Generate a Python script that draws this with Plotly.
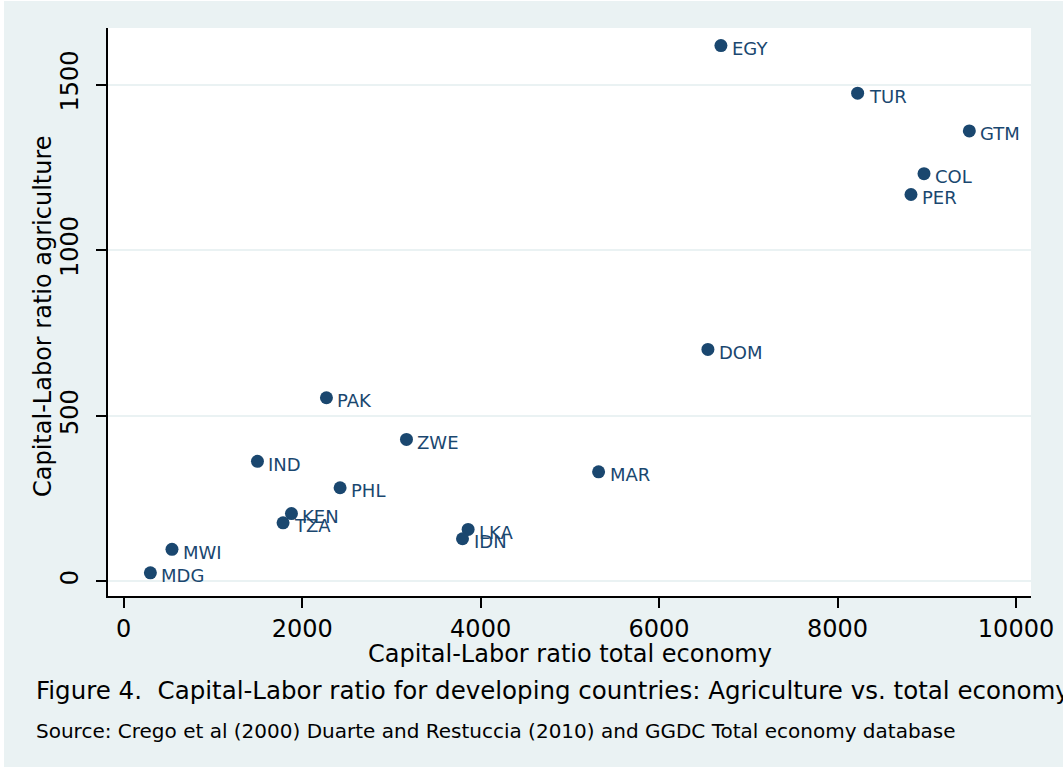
import plotly.graph_objects as go

# Capital-labor ratios
countries = ["EGY", "TUR", "GTM", "COL", "PER", "DOM", "PAK", "ZWE", "IND",
             "PHL", "MAR", "KEN", "TZA", "LKA", "IDN", "MWI", "MDG"]
kl_total = [6693, 8225, 9477, 8969, 8823, 6547, 2272, 3169, 1499,
            2425, 5322, 1880, 1786, 3860, 3797, 541, 299]
kl_agri = [1618, 1474, 1360, 1231, 1168, 700, 554, 428, 362,
           282, 330, 204, 176, 156, 128, 96, 25]

x_ticks = [0, 2000, 4000, 6000, 8000, 10000]
y_ticks = [0, 500, 1000, 1500]

navy = "#1a476f"
bg = "#eaf2f3"
font = "DejaVu Sans"

fig = go.Figure()
fig.add_trace(go.Scatter(
    x=kl_total, y=kl_agri, mode="markers",
    marker=dict(size=13, color=navy),
    hoverinfo="text", text=countries, showlegend=False,
))

# country labels, to the right of each point (KEN/TZA and LKA/IDN overlap as in the original)
for c, xv, yv in zip(countries, kl_total, kl_agri):
    fig.add_annotation(x=xv, y=yv, text=c, showarrow=False,
                       xanchor="left", yanchor="middle", xshift=9, yshift=-3,
                       font=dict(family=font, size=18, color=navy))

fig.add_annotation(x=0.5, y=-0.1025, xref="paper", yref="paper",
                   text="Capital-Labor ratio total economy", showarrow=False,
                   xanchor="center", yanchor="middle",
                   font=dict(family=font, size=24, color="black"))
fig.add_annotation(x=-0.0704, y=0.493, xref="paper", yref="paper",
                   text="Capital-Labor ratio agriculture", showarrow=False,
                   textangle=-90, xanchor="center", yanchor="middle",
                   font=dict(family=font, size=24, color="black"))
fig.add_annotation(x=-0.0802, y=-0.1655, xref="paper", yref="paper",
                   text="Figure 4.\u00a0 Capital-Labor ratio for developing countries: Agriculture vs. total economy",
                   showarrow=False, xanchor="left", yanchor="middle",
                   font=dict(family=font, size=24.5, color="black"))
fig.add_annotation(x=-0.0802, y=-0.2377, xref="paper", yref="paper",
                   text="Source: Crego et al (2000) Duarte and Restuccia (2010) and GGDC Total economy database",
                   showarrow=False, xanchor="left", yanchor="middle",
                   font=dict(family=font, size=20, color="black"))

fig.update_xaxes(range=[-176, 10168], tickvals=x_ticks, tickformat="d",
                 showgrid=False, zeroline=False,
                 showline=True, linecolor="black", linewidth=2,
                 ticks="outside", ticklen=10, tickwidth=2, tickcolor="black",
                 tickfont=dict(family=font, size=24, color="black"))
fig.update_yaxes(range=[-45, 1671], tickvals=y_ticks, showgrid=True,
                 gridcolor=bg, gridwidth=2, zeroline=False,
                 showline=True, linecolor="black", linewidth=2,
                 ticks="outside", ticklen=10, tickwidth=2, tickcolor="black",
                 tickangle=-90, ticklabelstandoff=8,
                 tickfont=dict(family=font, size=24, color="black"))

fig.update_layout(
    width=1063, height=767,
    margin=dict(l=104, r=36, t=27, b=172),
    paper_bgcolor=bg, plot_bgcolor="white",
    font=dict(family=font),
)

fig.write_html("out.html", post_script="document.body.style.margin='1px 0 0 4px';")
